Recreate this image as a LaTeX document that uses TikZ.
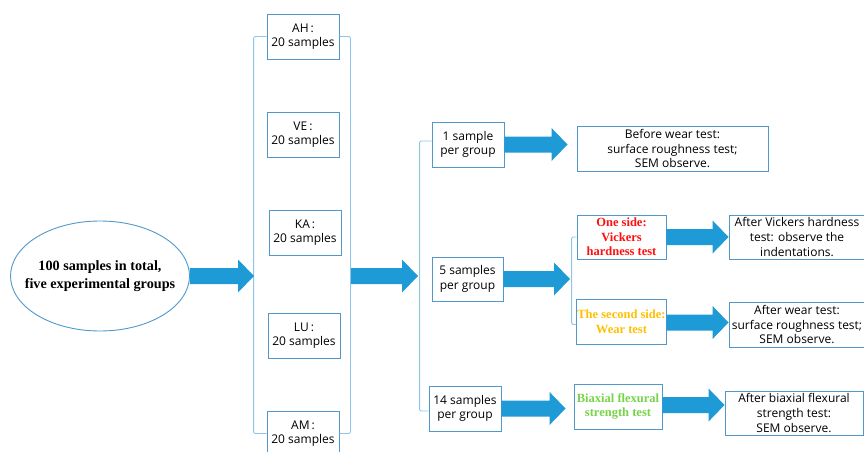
\documentclass[tikz,border=0pt]{standalone}
\usepackage{fontspec}
\setmainfont{Liberation Serif}
\newfontfamily\boxfont{Open Sans}
\usetikzlibrary{shapes.geometric,calc}
\definecolor{arrowblue}{HTML}{1E9AD6}
\definecolor{boxblue}{HTML}{4F98C9}
\definecolor{brkblue}{HTML}{8CC6EA}
\definecolor{redtxt}{HTML}{FF1010}
\definecolor{yeltxt}{HTML}{FFC000}
\definecolor{grntxt}{HTML}{77D44A}
\tikzset{
  sbox/.style={draw=boxblue, line width=0.9pt, fill=white, align=center, inner sep=1pt,
    font=\boxfont\fontsize{12}{14.6}\selectfont},
  cbox/.style={draw=boxblue, line width=0.9pt, fill=white, align=center, inner sep=0.5pt,
    font=\bfseries\fontsize{12.5}{14.6}\selectfont},
  bracket/.style={draw=brkblue, line width=0.9pt, rounded corners=2pt},
}
\newcommand\barrow[2]{%
  \fill[arrowblue] let \p1=#1, \p2=#2 in
    (\x1,\y1+8) -- (\x2-16,\y1+8) -- (\x2-16,\y1+16.5) -- (\x2,\y1)
    -- (\x2-16,\y1-16.5) -- (\x2-16,\y1-8) -- (\x1,\y1-8) -- cycle;}
\begin{document}
\begin{tikzpicture}[x=1pt,y=-1pt]
\useasboundingbox (0,0) rectangle (864,452);

% ellipse
\node[ellipse, draw=boxblue, line width=0.9pt, minimum width=179pt, minimum height=110pt,
  align=center, inner xsep=-15pt, inner ysep=0pt, font=\bfseries\fontsize{14.2}{17.5}\selectfont]
  (ell) at (100,276) {100 samples in total,\\five experimental groups};

% group boxes
\node[sbox, minimum width=72pt, minimum height=45pt] (AH) at (303,36.5) {AH\,:\\20 samples};
\node[sbox, minimum width=72pt, minimum height=45pt] (VE) at (303,134.5) {VE\,:\\20 samples};
\node[sbox, minimum width=72pt, minimum height=45pt] (KA) at (305,232.5) {KA\,:\\20 samples};
\node[sbox, minimum width=72pt, minimum height=45pt] (LU) at (304,335.5) {LU\,:\\20 samples};
\node[sbox, minimum width=72pt, minimum height=45pt] (AM) at (303,433.5) {AM\,:\\20 samples};

% bracket 1
\draw[bracket] (AH.west) -- ++(-13,0) |- (AM.west);
\draw[bracket] (AH.east) -- ++(11,0) |- (AM.east);
\coordinate (b1in) at (254,276);
\coordinate (b1out) at (351,276);
\coordinate (b2in) at (418,276);

% sample boxes
\node[sbox, minimum width=72pt, minimum height=45pt] (s1) at (468,144.5) {1 sample\\per group};
\node[sbox, minimum width=71pt, minimum height=44pt] (s5) at (467.5,279) {5 samples\\per group};
\node[sbox, minimum width=72pt, minimum height=45pt] (s14) at (465,408.5) {14 samples\\per group};

% bracket 2
\draw[bracket] ([yshift=3.5pt]s1.west) -- ++(-12,0) |- ([yshift=-2.5pt]s14.west);

% test boxes
\node[sbox, minimum width=191pt, minimum height=45pt] (before) at (672.5,148.5)
  {Before wear test:\\surface roughness test;\\SEM observe.};
\node[cbox, minimum width=89pt, minimum height=44pt, text=redtxt] (one) at (621.5,237)
  {One side:\\Vickers\\hardness test};
\node[cbox, minimum width=89pt, minimum height=45pt, text=yeltxt] (two) at (621.5,321.5)
  {The second side:\\Wear test};
\node[cbox, minimum width=88pt, minimum height=45pt, text=grntxt] (biax) at (618,406.5)
  {Biaxial flexural\\strength test};
\node[sbox, minimum width=136pt, minimum height=44pt] (afterV) at (797,237)
  {After Vickers hardness\\test: observe the\\indentations.};
\node[sbox, minimum width=136pt, minimum height=45pt] (afterW) at (797,324.5)
  {After wear test:\\surface roughness test;\\SEM observe.};
\node[sbox, minimum width=138pt, minimum height=44pt] (afterB) at (794,413)
  {After biaxial flexural\\strength test:\\SEM observe.};

% sub bracket
\draw[bracket] (one.west) -- ++(-5,0) |- ([yshift=-3pt]two.west);
\coordinate (b3in) at (570,279);

% block arrows
\barrow{(ell.east)}{(b1in)}
\barrow{(b1out)}{(b2in)}
\barrow{(s1.east)}{([xshift=-9pt]before.west)}
\barrow{(s5.east)}{(b3in)}
\barrow{(one.east)}{(afterV.west)}
\barrow{([yshift=-1pt]two.east)}{(afterW.west)}
\barrow{(s14.east)}{([xshift=-8pt]biax.west)}
\barrow{([yshift=1.5pt]biax.east)}{(afterB.west)}
\end{tikzpicture}
\end{document}
